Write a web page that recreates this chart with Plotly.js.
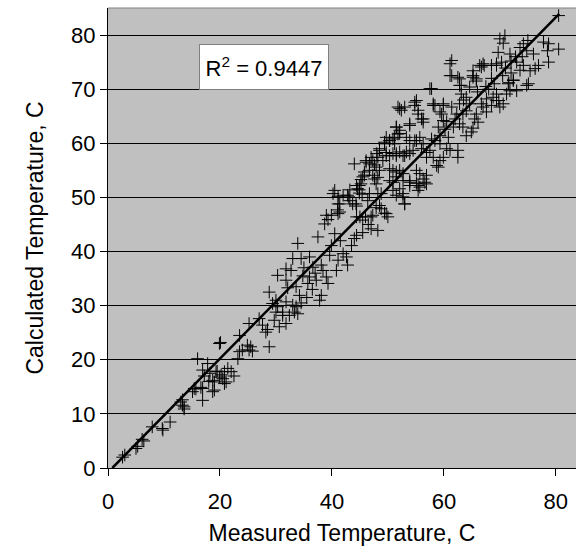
<!DOCTYPE html>
<html>
<head>
<meta charset="utf-8">
<script src="https://cdn.plot.ly/plotly-3.0.1.min.js"></script>
<style>html,body{margin:0;padding:0;background:#fff;}#chart{width:576px;height:546px;}</style>
</head>
<body>
<div id="chart"></div>
<script>
// Measured vs calculated temperature (C)
const measuredTemp = [
  2.6,3.0,5.0,5.3,6.1,6.4,7.9,9.7,9.8,11.1,13.0,13.6,13.3,13.3,13.6,15.1,15.7,15.4,16.9,16.9,18.7,19.0,20.8,
  16.0,16.9,16.6,17.8,18.7,19.0,19.3,19.9,20.2,20.8, 21.4,21.1,22.0,19.9,20.1,23.2,23.5,24.0,24.9,25.2,
  25.5,25.8,28.8,23.5,25.2,27.0,27.6,28.2,28.5,29.7, 30.6,30.0,31.2,31.8,32.4,33.3,33.6,33.9,29.4,30.3,
  31.8,37.8,17.2,18.2,18.0,22.5,20.5,19.5,
  28.8,30.0,30.3,31.8,31.8,32.7,32.1,33.0,33.9,34.5, 33.6,34.2,33.0,31.2,34.5,36.0,36.6,36.0,35.7,37.2,
  37.5,38.1,38.4,38.1,39.0,39.3,39.9,39.6,40.8,40.5, 41.1,42.0,42.6,42.8,43.5,44.0,44.4,41.5,39.0,38.7,
  39.3,41.1,41.4,40.2,41.4,41.1,42.8,43.7,44.3,44.6, 45.2,44.9,44.4,45.0,45.5,46.0,46.7,47.9,48.2,48.5,
  49.7,50.0,48.2,47.0,48.8,50.9,51.5,52.7,53.0,53.9, 55.7,56.9,35.5,36.5,37.0,34.8,35.0,45.5,46.5,47.0,
  54.8,52.1,53.0,55.4,56.3,58.1,53.9,51.5,52.1,51.2, 50.3,49.4,48.5,48.0,49.7,50.3,51.5,53.0,55.1,56.0,
  56.9,58.1,58.7,44.0,46.1,47.0,47.6,46.7,45.8,45.2, 44.4,43.2,44.9,40.5,42.0,43.0,43.2,44.4,41.1,41.0,
  39.9,47.6,48.2,50.3,51.5,52.7,53.9,55.1,56.3,55.4, 50.9,52.1,52.7,53.0,48.8,49.4,47.3,47.9,46.4,45.4,
  57.5,61.1,61.1,62.5,62.8,65.2,65.8,64.6,66.4,67.2, 69.4,71.0,72.0,74.2,74.8,72.4,71.6,71.2,69.4,67.6,
  69.8,70.6,68.5,67.0,65.8,65.5,66.1,65.2,64.0,64.9, 63.1,62.8,63.4,62.3,62.0,62.8,63.4,61.7,61.4,59.6,
  59.9,60.2,60.8,59.0,59.3,58.4,59.3,60.5,61.1,62.5, 62.5,59.9,59.3,59.0,57.8,57.5,56.9,56.3,55.7,54.8,
  54.5,53.9,53.3,52.7,52.1,51.5,50.9,49.7,49.1,48.5, 48.2,47.3,46.7,46.1,45.8,45.5,44.9,47.9,47.3,48.5,
  52.1,50.9,50.3,51.5,52.7,53.9,55.1,55.7,56.9,56.6, 55.4,53.9,53.3,51.5,52.1,51.8,50.9,50.3,49.4,49.7,
  51.2,51.8,52.4,55.1,54.8,55.4,56.0,56.3,53.9,58.1, 59.9,59.3,
  80.5,70.0,70.9,70.6,74.2,73.6,74.8,77.8,78.7,78.5, 80.5,78.7,76.9,76.3,75.4,75.1,71.5,71.8,73.0,72.4,
  73.6,69.7,71.8,70.3,69.4,68.5,67.0,66.7,65.2,65.2, 65.8,61.4,61.4,62.8,63.1,57.8,59.9,58.4,64.0,64.6,
  66.7,68.8,69.4,70.0,67.6,72.8,75.0,68.5,69.0,67.5, 70.5,73.0,74.0,76.0,72.0,66.0,64.0,68.0,63.5,60.5
];
const calculatedTemp = [
  2.0,2.4,3.6,4.0,5.3,5.0,7.6,7.3,7.0,8.5,12.2,11.3,12.6,11.6,10.9,14.1,14.6,14.7,14.7,12.5,14.1,15.9,15.6,
  20.2,18.1,14.9,19.3,16.2,14.4,17.8,16.8,17.2,17.8, 18.4,15.9,17.8,23.0,23.2,20.2,21.5,21.8,22.7,21.8,
  22.4,21.6,22.4,24.5,26.7,27.6,26.4,25.1,25.6,27.3, 26.1,28.8,28.2,26.7,28.2,28.8,29.8,28.5,30.4,29.8,
  30.7,31.0,17.0,17.5,16.0,17.0,16.5,17.9,
  32.5,31.0,35.6,36.8,34.7,36.5,33.3,38.7,41.5,38.7, 33.5,31.9,30.1,28.8,30.5,39.0,37.1,35.3,34.1,34.7,
  42.7,37.5,36.5,31.9,35.3,34.1,41.1,39.3,36.5,43.3, 38.4,39.6,39.0,37.5,41.1,42.4,43.0,42.0,46.7,45.1,
  45.9,47.0,47.3,50.7,48.8,50.2,50.4,48.8,48.8,51.6, 52.5,50.8,46.4,46.4,45.8,46.4,50.7,52.5,50.7,48.5,
  47.0,46.4,43.9,46.4,50.7,51.3,50.4,50.7,48.8,52.8, 51.9,52.5,31.5,33.0,36.0,35.5,37.0,43.5,45.0,44.2,
  67.6,66.4,66.7,66.1,64.5,67.0,63.3,63.0,61.8,61.1, 60.5,59.9,59.0,58.1,58.3,57.7,58.1,57.7,60.5,59.0,
  58.3,57.4,55.9,56.2,56.5,57.4,56.0,55.0,54.1,53.3, 52.2,51.4,51.4,51.3,50.4,50.1,49.4,48.4,48.8,47.7,
  46.7,53.4,53.7,55.3,54.7,54.4,53.1,52.6,53.4,51.3, 52.8,51.6,50.1,48.8,47.9,47.1,46.7,48.1,49.4,50.6,
  70.1,74.7,72.5,72.2,70.7,72.5,71.9,70.4,74.4,74.4, 74.4,73.9,75.2,74.4,70.7,71.6,71.2,69.1,69.1,68.2,
  67.9,67.3,67.0,66.7,65.4,64.5,63.9,62.8,61.4,62.1, 69.1,67.3,65.4,65.4,64.5,63.6,63.0,63.0,66.7,65.4,
  64.2,62.6,61.1,63.0,61.4,60.5,59.9,59.0,58.7,58.7, 57.4,57.4,56.8,55.6,60.8,58.7,57.4,59.9,61.1,60.5,
  58.7,58.1,58.4,57.7,58.4,57.7,58.1,57.7,56.8,58.7, 57.4,56.8,56.2,56.8,54.7,53.8,52.2,55.6,54.1,55.0,
  55.0,55.0,53.1,53.8,53.1,52.2,55.0,54.4,54.1,52.8, 52.2,60.5,61.1,63.0,62.4,61.7,60.8,60.5,60.2,61.1,
  59.9,66.7,66.1,67.9,67.0,65.4,64.5,63.9,63.6,67.3, 67.0,65.8,
  83.6,79.3,79.9,78.5,78.4,77.7,77.1,78.7,78.4,77.1, 77.4,75.0,74.4,73.8,73.4,71.0,71.0,69.7,69.7,71.7,
  73.5,76.8,76.5,75.0,74.7,74.4,74.7,74.1,73.4,72.2, 71.5,75.3,72.5,71.9,70.7,70.1,67.3,67.0,68.5,67.3,
  67.3,68.5,67.9,66.7,65.8,76.0,79.0,72.0,71.0,70.5, 72.5,75.0,76.0,76.5,73.0,69.5,66.0,70.0,68.0,64.0
];
// Linear trendline end points
const trendX = [0.77, 80.6];
const trendY = [0.0, 83.9];
const xTickVals = [0, 20, 40, 60, 80];
const yTickVals = [0, 10, 20, 30, 40, 50, 60, 70, 80];
const r2Label = 'R<sup>2</sup> = 0.9447';

const FONT = 'Liberation Sans, Arial, sans-serif';

const traces = [
  {
    x: measuredTemp, y: calculatedTemp, type: 'scatter', mode: 'markers',
    marker: {symbol: 'cross-thin', size: 9, color: '#000', line: {color: '#000', width: 1}},
    hoverinfo: 'skip', showlegend: false
  },
  {
    x: trendX, y: trendY, type: 'scatter', mode: 'lines',
    line: {color: '#000', width: 2.5}, hoverinfo: 'skip', showlegend: false
  }
];

const layout = {
  width: 576, height: 546,
  margin: {l: 108, r: 0, t: 8, b: 78, pad: 0},
  paper_bgcolor: '#ffffff', plot_bgcolor: '#c0c0c0',
  font: {family: FONT, color: '#000', size: 22},
  showlegend: false,
  xaxis: {
    range: [0, 83.6], tickvals: xTickVals, ticktext: xTickVals.map(String),
    ticks: 'outside', ticklen: 7, tickwidth: 1, tickcolor: '#000',
    ticklabelstandoff: 7,
    showline: true, linecolor: '#000', linewidth: 1,
    showgrid: false, zeroline: false,
    tickfont: {family: FONT, size: 22, color: '#000'},
    title: {text: 'Measured Temperature, C', font: {family: FONT, size: 23, color: '#000'}, standoff: 12}
  },
  yaxis: {
    range: [0, 85], tickvals: yTickVals, ticktext: yTickVals.map(String),
    ticks: 'outside', ticklen: 7, tickwidth: 1, tickcolor: '#000',
    showline: true, linecolor: '#000', linewidth: 1,
    showgrid: true, gridcolor: '#000', gridwidth: 1, zeroline: false,
    tickfont: {family: FONT, size: 22, color: '#000'},
    title: {text: 'Calculated Temperature, C', font: {family: FONT, size: 23, color: '#000'}, standoff: 21}
  },
  shapes: [
    {type: 'line', xref: 'paper', yref: 'paper', x0: 0, x1: 1, y0: 1, y1: 1,
     line: {color: '#808080', width: 1}}
  ],
  annotations: [
    {text: r2Label, xref: 'x', yref: 'y', x: 27.95, y: 74.15, showarrow: false,
     bgcolor: '#ffffff', bordercolor: '#808080', borderwidth: 1, borderpad: 0,
     width: 128, height: 44, font: {family: FONT, size: 22, color: '#000'}}
  ]
};

Plotly.newPlot('chart', traces, layout, {staticPlot: true, displayModeBar: false});
</script>
</body>
</html>
